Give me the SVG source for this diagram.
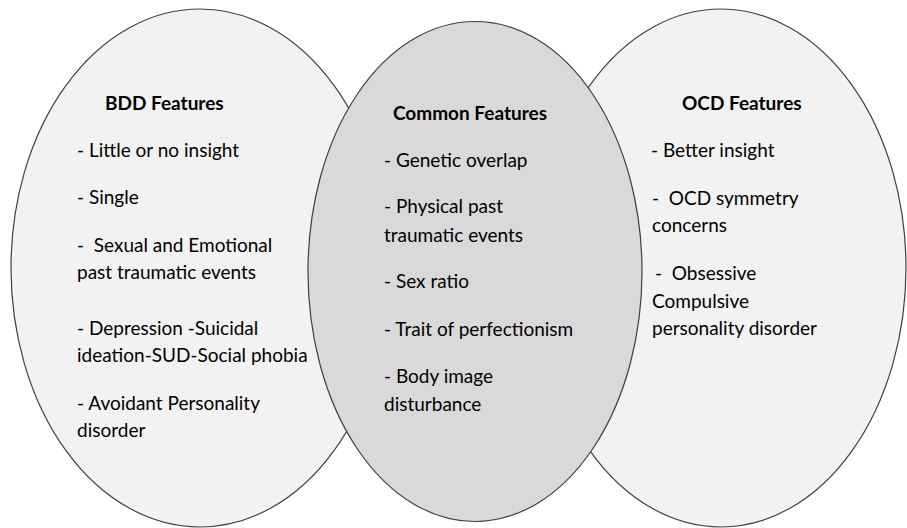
<svg xmlns="http://www.w3.org/2000/svg" width="907" height="528" viewBox="0 0 907 528">
<style>
.bg{fill:#ffffff}
.outer{fill:#f2f2f2;stroke:#3f3f3f;stroke-width:1.2}
.mid{fill:#d9d9d9;stroke:#3f3f3f;stroke-width:1.2}
text{font-family:Lato,"Open Sans","Liberation Sans",sans-serif;font-size:19px;fill:#000000}
.h{font-weight:bold}
</style>
<rect class="bg" x="0" y="0" width="907" height="528"/>
<g id="bdd">
<ellipse class="outer" cx="200" cy="268" rx="189" ry="259"/>
<text class="h" x="105" y="110">BDD Features</text>
<text x="77" y="157">- Little or no insight</text>
<text x="77" y="204">- Single</text>
<text x="77" y="252" xml:space="preserve">-  Sexual and Emotional</text>
<text x="77" y="279">past traumatic events</text>
<text x="77" y="335">- Depression -Suicidal</text>
<text x="77" y="362">ideation-SUD-Social phobia</text>
<text x="77" y="410">- Avoidant Personality</text>
<text x="77" y="437">disorder</text>
</g>
<g id="ocd">
<ellipse class="outer" cx="721" cy="268" rx="185" ry="259"/>
<text class="h" x="682" y="110">OCD Features</text>
<text x="651" y="157">- Better insight</text>
<text x="652" y="205" xml:space="preserve">-  OCD symmetry</text>
<text x="652" y="232">concerns</text>
<text x="655" y="280" xml:space="preserve">-  Obsessive</text>
<text x="652" y="308">Compulsive</text>
<text x="652" y="335">personality disorder</text>
</g>
<g id="common">
<ellipse class="mid" cx="475" cy="271.5" rx="167" ry="250"/>
<text class="h" x="393" y="120">Common Features</text>
<text x="384" y="167">- Genetic overlap</text>
<text x="384" y="213">- Physical past</text>
<text x="384" y="242">traumatic events</text>
<text x="384" y="288">- Sex ratio</text>
<text x="384" y="336">- Trait of perfectionism</text>
<text x="384" y="383">- Body image</text>
<text x="384" y="411">disturbance</text>
</g>
<g id="connectors"></g>
</svg>
